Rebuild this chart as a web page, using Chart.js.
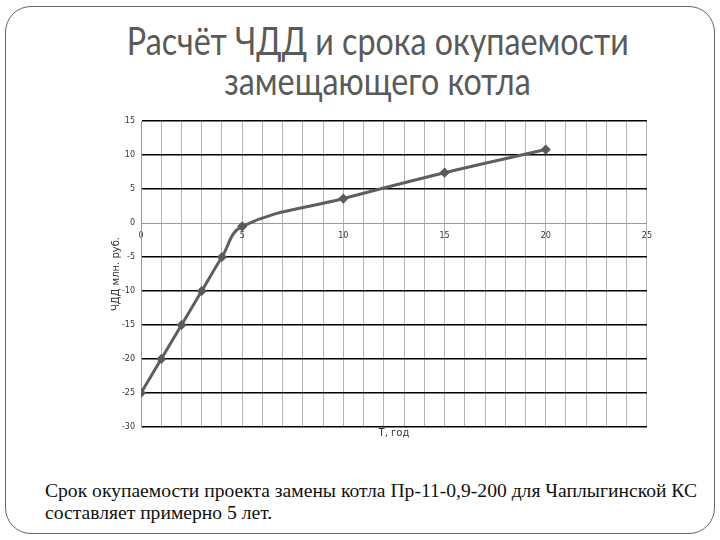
<!DOCTYPE html>
<html lang="ru">
<head>
    <meta charset="UTF-8">
    <title>Расчёт ЧДД</title>
    <script src="https://cdn.jsdelivr.net/npm/chart.js"></script>
    <style>
        body {
            margin: 0;
            width: 720px;
            height: 540px;
            position: relative;
            overflow: hidden;
            background: #fff;
        }
        .frame {
            position: absolute;
            left: 5px;
            top: 6px;
            width: 708px;
            height: 526px;
            border: 1.5px solid #666;
            border-radius: 26px;
        }
        .title {
            position: absolute;
            left: 0;
            top: 20px;
            width: 756px;
            text-align: center;
            font-family: "Lato", "Open Sans", sans-serif;
            font-size: 38px;
            line-height: 40px;
            color: #5a5a5a;
            white-space: nowrap;
        }
        .title span, .caption span {
            display: inline-block;
        }
        .title span { transform-origin: center; }
        .caption {
            position: absolute;
            left: 45px;
            top: 480px;
            font-family: "Liberation Serif", serif;
            font-size: 19px;
            line-height: 22px;
            color: #111;
            white-space: nowrap;
        }
        .caption span { transform-origin: left; }
        .chart-box {
            position: absolute;
            left: 100px;
            top: 110px;
            width: 560px;
            height: 335px;
        }
    </style>
</head>
<body>
    <div class="frame"></div>
    <div class="title">
        <span id="t1">Расчёт ЧДД и срока окупаемости</span><br>
        <span id="t2">замещающего котла</span>
    </div>
    <div class="chart-box"><canvas id="npvChart" width="560" height="335"></canvas></div>
    <div class="caption">
        <span id="c1">Срок окупаемости проекта замены котла Пр-11-0,9-200 для Чаплыгинской КС</span><br>
        <span id="c2">составляет примерно 5 лет.</span>
    </div>

    <script>
        // data
        const years = [0, 1, 2, 3, 4, 5, 10, 15, 20];
        const npv = [-25, -20, -15, -10, -5, -0.5, 3.6, 7.4, 10.8];
        const xTickLabels = [0, 5, 10, 15, 20, 25];
        const yTickLabels = [15, 10, 5, 0, -5, -10, -15, -20, -25, -30];

        const tickFont = { family: 'DejaVu Sans', size: 8 };
        const titleFont = { family: 'DejaVu Sans', size: 10 };

        new Chart(document.getElementById('npvChart'), {
            type: 'line',
            data: {
                datasets: [{
                    data: years.map((x, i) => ({ x: x, y: npv[i] })),
                    borderColor: '#5e5e5e',
                    borderWidth: 3,
                    tension: 0.4,
                    pointStyle: 'rectRot',
                    pointRadius: 3,
                    pointBackgroundColor: '#5a5a5a',
                    pointBorderColor: '#5a5a5a',
                    fill: false
                }]
            },
            options: {
                responsive: false,
                animation: false,
                layout: { padding: { left: 6, top: 11, right: 12, bottom: 2 } },
                plugins: { legend: { display: false }, tooltip: { enabled: false } },
                scales: {
                    x: {
                        type: 'linear',
                        position: { y: 0 },
                        min: 0,
                        max: 25,
                        ticks: {
                            stepSize: 1,
                            autoSkip: false,
                            maxRotation: 0,
                            padding: 8,
                            color: '#333',
                            font: tickFont,
                            callback: v => xTickLabels.includes(v) ? String(v) : ''
                        },
                        grid: { color: '#b4b4b4', lineWidth: 1, drawTicks: false },
                        border: { color: '#999', width: 1 }
                    },
                    x2: {
                        type: 'linear',
                        position: 'bottom',
                        min: 0,
                        max: 25,
                        ticks: { display: false },
                        grid: { display: false },
                        border: { display: false },
                        title: { display: true, text: 'T, год', color: '#333', font: titleFont },
                        afterFit: s => { s.height = 16; }
                    },
                    y: {
                        min: -30,
                        max: 15,
                        afterBuildTicks: s => { s.ticks = yTickLabels.map(v => ({ value: v })); },
                        ticks: { padding: 6, color: '#333', font: tickFont },
                        grid: {
                            color: c => c.tick && c.tick.value === 0 ? '#999' : '#000',
                            lineWidth: c => c.tick && c.tick.value === 0 ? 1 : 1.5,
                            drawTicks: false
                        },
                        border: { color: '#999', width: 1 },
                        title: { display: true, text: 'ЧДД млн. руб.', color: '#333', font: titleFont },
                        afterFit: s => { s.width = 35; }
                    }
                }
            }
        });

        function fit() {
            const t1 = document.getElementById('t1');
            const t2 = document.getElementById('t2');
            const k = 502 / t1.getBoundingClientRect().width;
            t1.style.transform = 'scaleX(' + k + ')';
            t2.style.transform = 'scaleX(' + k + ')';
            const c1 = document.getElementById('c1');
            const c2 = document.getElementById('c2');
            const m = 652 / c1.getBoundingClientRect().width;
            c1.style.transform = 'scaleX(' + m + ')';
            c2.style.transform = 'scaleX(' + m + ')';
        }
        fit();
    </script>
</body>
</html>
